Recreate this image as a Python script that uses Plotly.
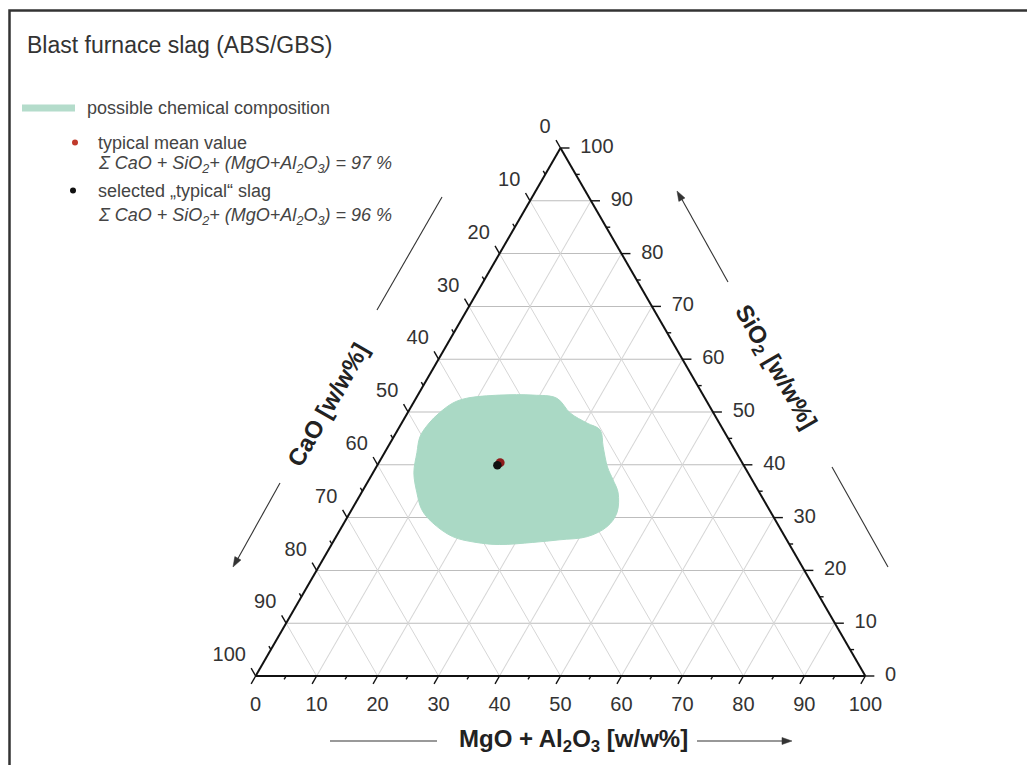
import plotly.graph_objects as go

# ---------------- data ----------------
tick_values = [0, 10, 20, 30, 40, 50, 60, 70, 80, 90, 100]
minor_tick_values = [5, 15, 25, 35, 45, 55, 65, 75, 85, 95]

# boundary of the "possible chemical composition" region (w/w%)
region_sio2 = [52.6, 53.2, 53.2, 52.6, 49.8, 47.9, 46.6, 43.4, 39.6, 37.2, 34.7, 30.9, 28.3, 26.4,
               25.8, 25.3, 24.9, 25.3, 26.4, 29.1, 31.5, 34.7, 38.5, 42.3, 45.3, 47.9, 49.8, 51.7]
region_mgo_al2o3 = [8.3, 13.4, 18.9, 23.1, 26.7, 30.4, 33.2, 35.3, 37.9, 40.0, 42.1, 43.8, 43.5, 41.2,
                    37.0, 32.8, 27.5, 23.5, 19.1, 14.4, 11.5, 9.1, 6.7, 5.3, 4.3, 4.5, 5.2, 6.5]
region_cao = [round(100 - s - m, 1) for s, m in zip(region_sio2, region_mgo_al2o3)]

mean_sio2, mean_cao, mean_mgo = [40.4], [39.7], [19.9]
sel_sio2, sel_cao, sel_mgo = [39.9], [40.4], [19.7]

# ---------------- styling ----------------
FONT = "Arial, Liberation Sans, sans-serif"
TXT = "#333333"
GREEN = "#aad9c5"
W, H = 1027, 765


def px(x):
    return x / W


def py(y):
    return 1 - y / H


fig = go.Figure()

fig.add_trace(go.Scatterternary(
    a=region_sio2 + region_sio2[:1], b=region_cao + region_cao[:1], c=region_mgo_al2o3 + region_mgo_al2o3[:1],
    mode="lines", fill="toself", fillcolor=GREEN,
    line=dict(color=GREEN, width=1, shape="spline", smoothing=1),
    hoverinfo="skip", showlegend=False))

fig.add_trace(go.Scatterternary(
    a=mean_sio2, b=mean_cao, c=mean_mgo, mode="markers",
    marker=dict(color="#8e1b1b", size=9), hoverinfo="skip", showlegend=False))
fig.add_trace(go.Scatterternary(
    a=sel_sio2, b=sel_cao, c=sel_mgo, mode="markers",
    marker=dict(color="#111111", size=8.5), hoverinfo="skip", showlegend=False))


def edge_ticks(values, out_len):
    """outward tick marks drawn as rotated line markers standing off the triangle edges"""
    k = len(values)
    half = out_len / 2.0
    size = half / 0.7  # plotly line symbols are 1.4 * radius long on each side
    common = dict(mode="markers", cliponaxis=False, hoverinfo="skip", showlegend=False)
    mk = dict(symbol="line-ns", size=size, standoff=half, color="#111111",
              line=dict(color="#111111", width=1.4))
    # CaO ticks on left edge (pointing up-left)
    fig.add_trace(go.Scatterternary(a=[100 - v for v in values], b=values, c=[0] * k,
                                    marker=dict(angle=150, **mk), **common))
    # MgO + Al2O3 ticks on bottom edge (pointing down-left)
    fig.add_trace(go.Scatterternary(a=[0] * k, b=[100 - v for v in values], c=values,
                                    marker=dict(angle=30, **mk), **common))
    # SiO2 ticks on right edge (pointing right)
    fig.add_trace(go.Scatterternary(a=values, b=[0] * k, c=[100 - v for v in values],
                                    marker=dict(angle=-90, **mk), **common))


edge_ticks(tick_values, 9)
edge_ticks(minor_tick_values, 4)

inv = dict(color="rgba(0,0,0,0)")
n = len(tick_values)
tick_text = [str(v) for v in tick_values]
# CaO labels along the left edge
fig.add_trace(go.Scatterternary(
    a=[100 - v for v in tick_values], b=tick_values, c=[0] * n,
    mode="markers+text", text=tick_text, textposition="top left",
    marker=dict(size=14, **inv), textfont=dict(size=20, color=TXT, family=FONT),
    cliponaxis=False, hoverinfo="skip", showlegend=False))
# SiO2 labels along the right edge
fig.add_trace(go.Scatterternary(
    a=tick_values, b=[0] * n, c=[100 - v for v in tick_values],
    mode="markers+text", text=tick_text, textposition="middle right",
    marker=dict(size=30, **inv), textfont=dict(size=20, color=TXT, family=FONT),
    cliponaxis=False, hoverinfo="skip", showlegend=False))
# MgO + Al2O3 labels along the bottom edge
fig.add_trace(go.Scatterternary(
    a=[0] * n, b=[100 - v for v in tick_values], c=tick_values,
    mode="markers+text", text=tick_text, textposition="bottom center",
    marker=dict(size=30, **inv), textfont=dict(size=20, color=TXT, family=FONT),
    cliponaxis=False, hoverinfo="skip", showlegend=False))

axis_common = dict(
    title=dict(text=""), showticklabels=False, ticks="",
    showline=True, linecolor="#111111", linewidth=2,
    tickmode="linear", tick0=0, dtick=10, min=0, layer="above traces")

fig.update_layout(
    width=W, height=H,
    margin=dict(l=0, r=0, t=0, b=0),
    paper_bgcolor="white", plot_bgcolor="white",
    font=dict(family=FONT, color=TXT),
    showlegend=False,
    ternary=dict(
        sum=100,
        bgcolor="white",
        domain=dict(x=[0.20076, 0.89076], y=[0.11634, 0.80654]),
        aaxis=dict(**axis_common, gridcolor="#bdbdbd", gridwidth=1),
        baxis=dict(**axis_common, gridcolor="#d6d6d6", gridwidth=1),
        caxis=dict(**axis_common, gridcolor="#d6d6d6", gridwidth=1),
    ),
)


def arrow_head(tip, tail, length=10, half=3.5):
    """small filled triangle path (paper coords) pointing from tail to tip (pixel inputs)"""
    tx, ty = tip
    dx, dy = tx - tail[0], ty - tail[1]
    d = (dx * dx + dy * dy) ** 0.5
    ux, uy = dx / d, dy / d
    bx, by = tx - length * ux, ty - length * uy
    nx, ny = -uy, ux
    pts = [(tx, ty), (bx + half * nx, by + half * ny), (bx - half * nx, by - half * ny)]
    path = "M " + " L ".join(f"{px(x):.5f},{py(y):.5f}" for x, y in pts) + " Z"
    return dict(type="path", xref="paper", yref="paper", path=path,
                fillcolor="#333333", line=dict(color="#333333", width=0.5))


def guide_line(p0, p1, color="#333333", width=1.1):
    return dict(type="line", xref="paper", yref="paper", x0=px(p0[0]), y0=py(p0[1]),
                x1=px(p1[0]), y1=py(p1[1]), line=dict(color=color, width=width))


# ---------------- frame, legend, titles ----------------
shapes = [
    dict(type="rect", xref="paper", yref="paper", x0=px(9.5), x1=1.05, y0=py(10.5), y1=-0.05,
         line=dict(color="#333333", width=2.5), fillcolor="rgba(0,0,0,0)"),
    dict(type="rect", xref="paper", yref="paper", x0=px(22), x1=px(75), y0=py(104.5), y1=py(111.5),
         line=dict(width=0), fillcolor="#b4dccb"),
    dict(type="circle", xref="paper", yref="paper", x0=px(72), x1=px(78), y0=py(139.5), y1=py(145.5),
         line=dict(width=0), fillcolor="#c0392b"),
    dict(type="circle", xref="paper", yref="paper", x0=px(70), x1=px(76), y0=py(187.5), y1=py(193.5),
         line=dict(width=0), fillcolor="#111111"),
    # decorative axis guide lines and arrows
    guide_line((330, 741), (437, 741), color="#777777", width=1.6),
    guide_line((697, 741), (786, 741)),
    arrow_head((792, 741), (697, 741)),
    guide_line((377, 310), (442, 197)),
    guide_line((280, 483), (236, 562)),
    arrow_head((233, 567), (280, 483)),
    guide_line((728, 282), (680, 196)),
    arrow_head((677, 191), (728, 282)),
    guide_line((832, 467), (888, 567)),
]

annotations = [
    dict(text="Blast furnace slag (ABS/GBS)", x=px(25), y=py(45), xanchor="left", yanchor="middle",
         font=dict(size=23, color=TXT)),
    dict(text="possible chemical composition", x=px(85), y=py(108), xanchor="left", yanchor="middle",
         font=dict(size=18, color="#444444")),
    dict(text="typical mean value", x=px(96), y=py(143), xanchor="left", yanchor="middle",
         font=dict(size=18, color="#444444")),
    dict(text="<i>Σ CaO + SiO<sub>2</sub>+ (MgO+Al<sub>2</sub>O<sub>3</sub>) = 97 %</i>",
         x=px(96), y=py(164), xanchor="left", yanchor="middle", font=dict(size=18, color="#444444")),
    dict(text="selected „typical“ slag", x=px(96), y=py(191), xanchor="left", yanchor="middle",
         font=dict(size=18, color="#444444")),
    dict(text="<i>Σ CaO + SiO<sub>2</sub>+ (MgO+Al<sub>2</sub>O<sub>3</sub>) = 96 %</i>",
         x=px(96), y=py(216), xanchor="left", yanchor="middle", font=dict(size=18, color="#444444")),
    # axis titles
    dict(text="<b>CaO [w/w%]</b>", x=px(327), y=py(405), textangle=-60, xanchor="center", yanchor="middle",
         font=dict(size=24, color="#222222")),
    dict(text="<b>SiO<sub>2</sub> [w/w%]</b>", x=px(775), y=py(367), textangle=60, xanchor="center",
         yanchor="middle", font=dict(size=24, color="#222222")),
    dict(text="<b>MgO + Al<sub>2</sub>O<sub>3</sub> [w/w%]</b>", x=px(573), y=py(740), xanchor="center",
         yanchor="middle", font=dict(size=24, color="#222222")),
]
for an in annotations:
    an.setdefault("xref", "paper")
    an.setdefault("yref", "paper")
    an.setdefault("showarrow", False)

fig.update_layout(shapes=shapes, annotations=annotations)

fig.write_html("out.html")
